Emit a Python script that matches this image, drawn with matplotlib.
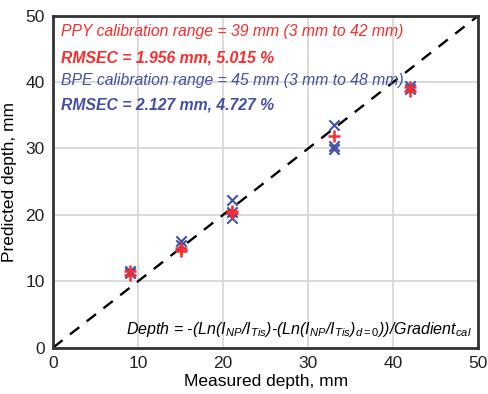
import numpy as np
import matplotlib
matplotlib.use('Agg')
import matplotlib.pyplot as plt

plt.rcParams['font.family'] = ['Liberation Sans', 'DejaVu Sans']
plt.rcParams['mathtext.fontset'] = 'custom'
plt.rcParams['mathtext.rm'] = 'Liberation Sans'
plt.rcParams['mathtext.it'] = 'Liberation Sans:italic'
plt.rcParams['mathtext.default'] = 'it'

# measured depth (mm) and predicted replicates
ppy_x = [9, 9, 15, 15, 21, 21, 33, 42, 42]
ppy_y = [11.5, 11.0, 14.5, 15.0, 20.2, 20.6, 31.9, 38.7, 39.2]
bpe_x = [9, 9, 15, 15, 21, 21, 21, 33, 33, 33, 42, 42]
bpe_y = [11.2, 11.6, 15.5, 16.0, 22.2, 19.5, 20.4, 33.6, 30.4, 29.9, 39.4, 39.0]

red = '#ff2a2a'
blue = '#4150a8'

fig = plt.figure(figsize=(4.88, 3.94), dpi=100)
ax = fig.add_axes([0.109, 0.118, 0.871, 0.842])

ax.plot([0, 50], [0, 50], '--', color='black', lw=1.7, dashes=(5, 4), zorder=2)
ax.scatter(bpe_x, bpe_y, marker='x', color=blue, s=55, lw=1.5, zorder=3)
ax.scatter(ppy_x, ppy_y, marker='+', color=red, s=75, lw=1.8, zorder=4)

ax.set_xlim(0, 50)
ax.set_ylim(0, 50)
ax.set_xticks(range(0, 51, 10))
ax.set_yticks(range(0, 51, 10))
ax.grid(True, color='#d8d8d8', lw=1.3)
ax.set_axisbelow(True)
for s in ax.spines.values():
    s.set_linewidth(2)
    s.set_color('#333333')
ax.tick_params(labelsize=12.5, length=0, pad=6, colors='#222222')
ax.set_xlabel('Measured depth, mm', fontsize=12.5, labelpad=2)
ax.set_ylabel('Predicted depth, mm', fontsize=12.5, labelpad=6)

ax.text(0.9, 46.9, 'PPY calibration range = 39 mm (3 mm to 42 mm)', color=red,
        fontsize=11.3, style='italic')
ax.text(0.9, 42.9, 'RMSEC = 1.956 mm, 5.015 %', color=red,
        fontsize=11.3, style='italic', weight='bold')
ax.text(0.9, 39.5, 'BPE calibration range = 45 mm (3 mm to 48 mm)', color=blue,
        fontsize=11.3, style='italic')
ax.text(0.9, 35.9, 'RMSEC = 2.127 mm, 4.727 %', color=blue,
        fontsize=11.3, style='italic', weight='bold')
ax.text(49.2, 2.0, r'Depth = -(Ln(I$_{NP}$/I$_{Tis}$)-(Ln(I$_{NP}$/I$_{Tis}$)$_{d=0}$))/Gradient$_{cal}$',
        color='black', fontsize=11.5, style='italic', ha='right')

fig.savefig('out.png', dpi=100)
